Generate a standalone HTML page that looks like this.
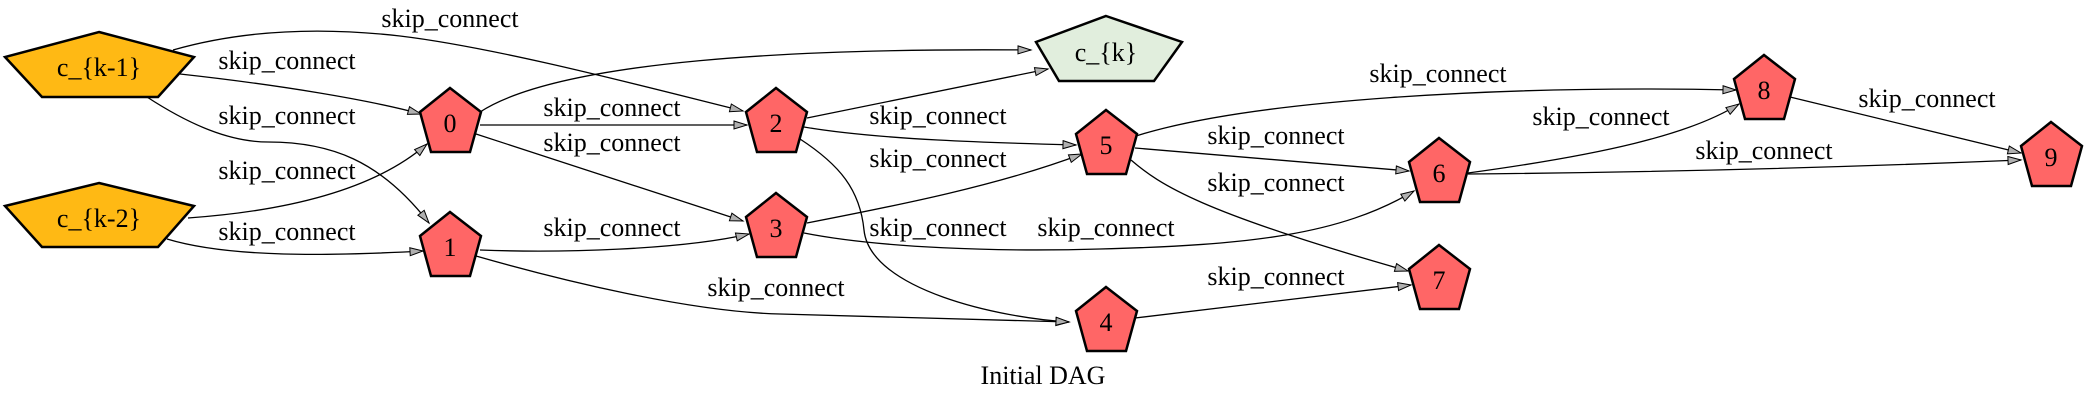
<!DOCTYPE html>
<html><head><meta charset="utf-8"><style>
html,body{margin:0;padding:0;background:#fff;}
svg{display:block;}
text{font-family:"Liberation Serif",serif;font-size:26px;fill:#000;}
.e{fill:none;stroke:#000;stroke-width:1.3;}
.n{stroke:#000;stroke-width:2.5;stroke-linejoin:miter;}
</style></head><body>
<svg width="2086" height="402" viewBox="0 0 2086 402" xmlns="http://www.w3.org/2000/svg">
<defs>
<marker id="a" markerUnits="userSpaceOnUse" markerWidth="16" markerHeight="12" refX="14" refY="5" orient="auto">
<path d="M1,1 L14,5 L1,9 Z" fill="#b0b0b0" stroke="#000" stroke-width="1"/>
</marker>
</defs>
<g class="e" marker-end="url(#a)">
<path d="M173,50 C250,28 330,28 400,36 C500,48 650,88 743,111"/>
<path d="M180,74 C280,85 370,100 421,114"/>
<path d="M147,97 C190,125 230,142 268,142 C330,142 380,160 429,223"/>
<path d="M188,218 C300,210 380,185 427,144"/>
<path d="M167,239 C230,258 330,256 423,251"/>
<path d="M480,112 C560,60 800,48 1031,50"/>
<path d="M480,125 L747,125"/>
<path d="M476,134 L743,221"/>
<path d="M480,250 C560,253 680,250 749,234"/>
<path d="M476,256 C560,280 690,312 780,314 C900,318 1000,320 1069,322"/>
<path d="M807,118 L1048,69"/>
<path d="M804,127 C880,140 1000,143 1076,145"/>
<path d="M800,139 C840,165 860,190 864,230 C870,290 1000,318 1069,322"/>
<path d="M807,223 C900,205 1000,185 1082,154"/>
<path d="M804,233 C880,248 1000,252 1100,249 C1250,245 1340,235 1414,191"/>
<path d="M1136,136 C1250,100 1500,85 1736,90"/>
<path d="M1135,148 L1409,171"/>
<path d="M1131,160 C1160,185 1200,212 1408,271"/>
<path d="M1135,318 L1411,285"/>
<path d="M1468,173 C1600,155 1690,135 1739,104"/>
<path d="M1468,174 C1700,172 1900,165 2021,160"/>
<path d="M1790,97 L2021,153"/>
</g>
<g class="n">
<polygon points="99,32 194,57 158,97 42,97 5,57" fill="#ffb914"/>
<polygon points="99,183 194,206 158,247 42,247 5,206" fill="#ffb914"/>
<polygon points="1106,16 1182,42 1154,81 1059,81 1036,42" fill="#e1eedd"/>
<g fill="#ff6666">
<polygon points="450,88 481,112 470,152 431,152 420,112"/>
<polygon points="450,212 481,236 470,276 431,276 420,236"/>
<polygon points="776,88 807,112 796,152 757,152 746,112"/>
<polygon points="776,193 807,217 796,257 757,257 746,217"/>
<polygon points="1106,287 1137,311 1126,351 1087,351 1076,311"/>
<polygon points="1106,110 1137,134 1126,174 1087,174 1076,134"/>
<polygon points="1439,138 1470,162 1459,202 1420,202 1409,162"/>
<polygon points="1439,245 1470,269 1459,309 1420,309 1409,269"/>
<polygon points="1764,55 1795,79 1784,119 1745,119 1734,79"/>
<polygon points="2051,122 2082,146 2071,186 2032,186 2021,146"/>
</g>
</g>
<g text-anchor="middle">
<text x="99" y="76">c_{k-1}</text>
<text x="99" y="227">c_{k-2}</text>
<text x="1106" y="61">c_{k}</text>
<text x="450" y="132">0</text>
<text x="450" y="256">1</text>
<text x="776" y="132">2</text>
<text x="776" y="237">3</text>
<text x="1106" y="331">4</text>
<text x="1106" y="154">5</text>
<text x="1439" y="182">6</text>
<text x="1439" y="289">7</text>
<text x="1764" y="99">8</text>
<text x="2051" y="166">9</text>
<text x="450" y="27">skip_connect</text>
<text x="287" y="69">skip_connect</text>
<text x="287" y="124">skip_connect</text>
<text x="287" y="179">skip_connect</text>
<text x="287" y="240">skip_connect</text>
<text x="612" y="116">skip_connect</text>
<text x="612" y="151">skip_connect</text>
<text x="612" y="236">skip_connect</text>
<text x="776" y="296">skip_connect</text>
<text x="938" y="124">skip_connect</text>
<text x="938" y="167">skip_connect</text>
<text x="938" y="236">skip_connect</text>
<text x="1106" y="236">skip_connect</text>
<text x="1438" y="82">skip_connect</text>
<text x="1276" y="144">skip_connect</text>
<text x="1276" y="191">skip_connect</text>
<text x="1276" y="285">skip_connect</text>
<text x="1601" y="125">skip_connect</text>
<text x="1764" y="159">skip_connect</text>
<text x="1927" y="107">skip_connect</text>
<text x="1043" y="384">Initial DAG</text>
</g>
</svg>
</body></html>
